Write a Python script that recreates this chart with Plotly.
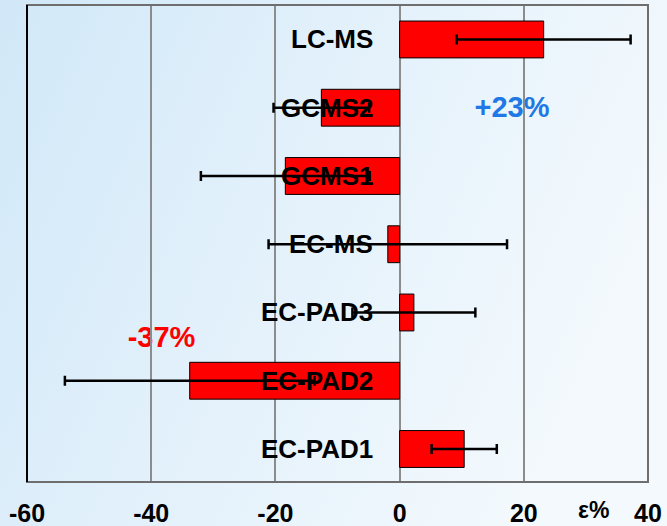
import base64
import plotly.graph_objects as go

# Relative deviation of each method (%), with its uncertainty
methods = ["EC-PAD1", "EC-PAD2", "EC-PAD3", "EC-MS", "GCMS1", "GCMS2", "LC-MS"]
deviation = [10.4, -33.8, 2.3, -1.9, -18.4, -12.6, 23.2]
uncertainty = [5.25, 20.1, 9.9, 19.2, 13.6, 7.7, 14.0]

x_ticks = [-60, -40, -20, 0, 20, 40]
x_tick_text = ["-60", "-40", "-20", "0", "20", "40"]

FONT = "Liberation Sans, Arial, sans-serif"

# Soft blue page background
bg_svg = (
    "<svg xmlns='http://www.w3.org/2000/svg' width='667' height='526'>"
    "<defs><linearGradient id='g' x1='0' y1='0' x2='1' y2='0.35'>"
    "<stop offset='0' stop-color='#d1e8f8'/>"
    "<stop offset='0.5' stop-color='#e3f1fb'/>"
    "<stop offset='1' stop-color='#f3f9fd'/>"
    "</linearGradient></defs>"
    "<rect width='667' height='526' fill='url(#g)'/></svg>"
)
bg_uri = "data:image/svg+xml;base64," + base64.b64encode(bg_svg.encode()).decode()

W, H = 667, 526
L, R, T, B = 27, 19, 5, 44
pw, ph = W - L - R, H - T - B

fig = go.Figure()

fig.add_trace(go.Bar(
    x=deviation,
    y=methods,
    orientation="h",
    width=0.54,
    marker=dict(color="#ff0000", line=dict(color="#000000", width=1)),
    error_x=dict(type="data", array=uncertainty, visible=True,
                 color="#000000", thickness=2.5, width=5),
    hoverinfo="skip",
))

# Method names, right-aligned just left of zero
annotations = [
    dict(x=-3.9, y=m, xref="x", yref="y", text=m, showarrow=False,
         xanchor="right", yanchor="middle",
         font=dict(family=FONT, size=26, color="#000000", weight="bold"))
    for m in methods
]
annotations.append(dict(
    x=(593 - L) / pw, y=1 - (510 - T) / ph, xref="paper", yref="paper",
    text="ε%", showarrow=False, xanchor="center", yanchor="middle",
    font=dict(family=FONT, size=23, color="#000000", weight="bold")))


def big_label(text, cx, cy, color):
    # invisible box carrying a label, kept beneath the grid lines
    px, py = (cx - L) / pw, 1 - (cy - T) / ph
    return dict(type="rect", xref="paper", yref="paper", layer="below",
                x0=px - 0.08, x1=px + 0.08, y0=py - 0.04, y1=py + 0.04,
                line=dict(width=0), fillcolor="rgba(0,0,0,0)",
                label=dict(text=text, textposition="middle center",
                           font=dict(family=FONT, size=29, color=color,
                                     weight="bold")))


shapes = [
    big_label("+23%", 512, 104, "#1f78e6"),
    big_label("-37%", 161.5, 333.5, "#ff0000"),
    dict(type="rect", xref="paper", yref="paper", x0=0, x1=1, y0=0, y1=1,
         line=dict(color="#6e6e6e", width=2), layer="above"),
    dict(type="line", xref="paper", yref="paper", x0=0, x1=0, y0=0, y1=1,
         line=dict(color="#000000", width=2), layer="above"),
]

fig.update_layout(
    width=W, height=H,
    margin=dict(l=L, r=R, t=T, b=B, pad=0, autoexpand=False),
    paper_bgcolor="#e6f2fb",
    plot_bgcolor="rgba(0,0,0,0)",
    showlegend=False,
    images=[dict(source=bg_uri, xref="paper", yref="paper",
                 x=-L / pw, y=1 + T / ph, sizex=W / pw, sizey=H / ph,
                 xanchor="left", yanchor="top", sizing="stretch",
                 layer="below")],
    shapes=shapes,
    annotations=annotations,
    xaxis=dict(
        range=[-60, 40], tickvals=x_ticks, ticktext=x_tick_text,
        showgrid=True, gridcolor="#8c8c8c", gridwidth=2,
        zeroline=False, showline=False, automargin=False,
        ticks="outside", ticklen=9, tickcolor="rgba(0,0,0,0)",
        tickfont=dict(family=FONT, size=25, color="#000000", weight="bold"),
        fixedrange=True,
    ),
    yaxis=dict(
        type="category", categoryorder="array", categoryarray=methods,
        range=[-0.4835, 6.505], automargin=False,
        showticklabels=False, showgrid=False, zeroline=False,
        showline=False, ticks="", fixedrange=True,
    ),
)

fig.write_html("out.html")
